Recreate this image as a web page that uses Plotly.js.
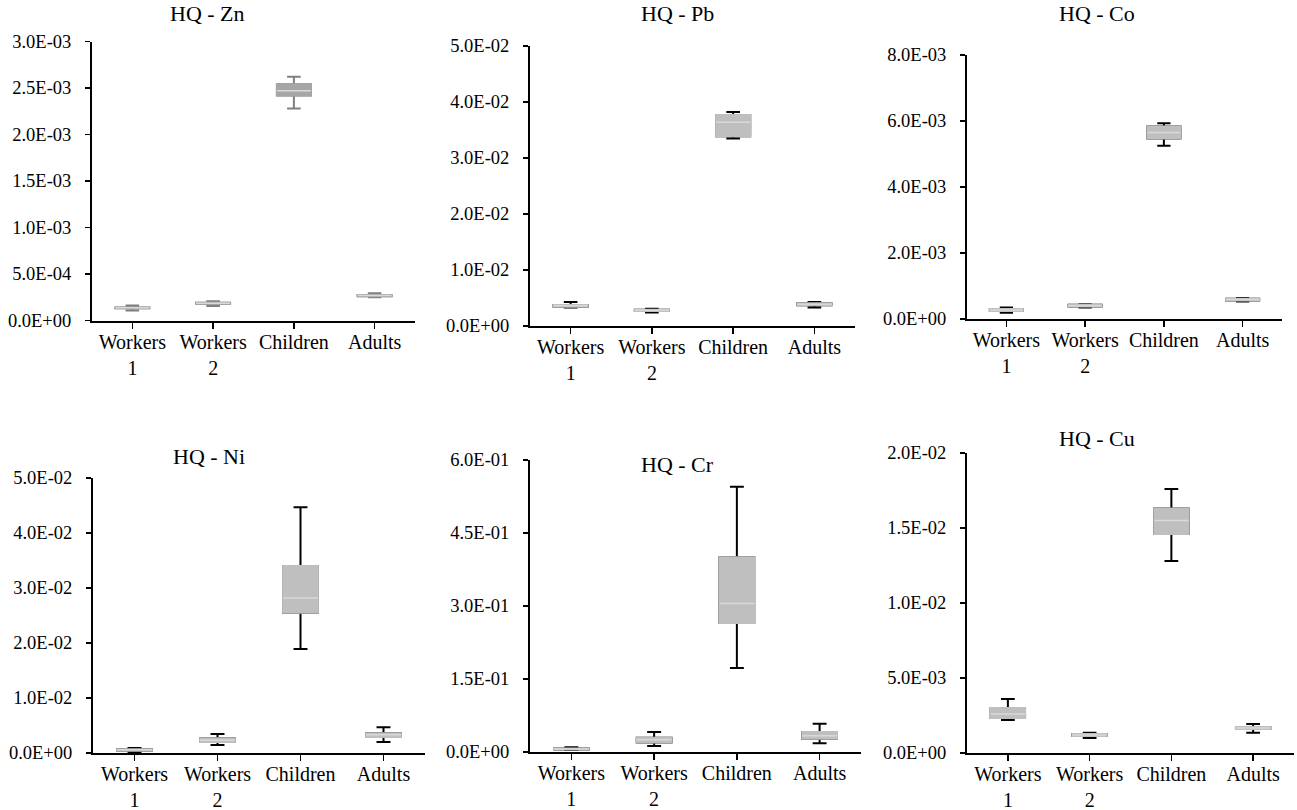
<!DOCTYPE html>
<html>
<head>
<meta charset="utf-8">
<script src="https://cdn.plot.ly/plotly-3.0.1.min.js"></script>
<style>html,body{margin:0;padding:0;background:#fff;}#chart{width:1297px;height:810px;}</style>
</head>
<body>
<div id="chart"></div>
<script>
// ---------- DATA ----------
const categories = ['Workers 1', 'Workers 2', 'Children', 'Adults'];
const categoryLabels = ['Workers<br>1', 'Workers<br>2', 'Children', 'Adults'];

// HQ - Zn
const znLow    = [1.07e-4, 1.57e-4, 2.28e-3, 2.50e-4];
const znQ1     = [1.33e-4, 1.80e-4, 2.42e-3, 2.62e-4];
const znMedian = [1.36e-4, 1.85e-4, 2.47e-3, 2.68e-4];
const znQ3     = [1.40e-4, 1.90e-4, 2.54e-3, 2.75e-4];
const znHigh   = [1.60e-4, 2.07e-4, 2.62e-3, 2.92e-4];
const znTicks  = [0, 5e-4, 1e-3, 1.5e-3, 2e-3, 2.5e-3, 3e-3];
const znTickText = ['0.0E+00', '5.0E-04', '1.0E-03', '1.5E-03', '2.0E-03', '2.5E-03', '3.0E-03'];

// HQ - Pb
const pbLow    = [3.3e-3, 2.4e-3, 3.35e-2, 3.3e-3];
const pbQ1     = [3.45e-3, 2.7e-3, 3.39e-2, 3.7e-3];
const pbMedian = [3.6e-3, 2.8e-3, 3.64e-2, 3.9e-3];
const pbQ3     = [3.75e-3, 2.9e-3, 3.77e-2, 4.05e-3];
const pbHigh   = [4.3e-3, 3.1e-3, 3.82e-2, 4.3e-3];
const pbTicks  = [0, 1e-2, 2e-2, 3e-2, 4e-2, 5e-2];
const pbTickText = ['0.0E+00', '1.0E-02', '2.0E-02', '3.0E-02', '4.0E-02', '5.0E-02'];

// HQ - Co
const coLow    = [1.9e-4, 3.5e-4, 5.25e-3, 5.3e-4];
const coQ1     = [2.4e-4, 3.8e-4, 5.47e-3, 5.6e-4];
const coMedian = [2.7e-4, 4.0e-4, 5.65e-3, 5.9e-4];
const coQ3     = [3.0e-4, 4.3e-4, 5.83e-3, 6.1e-4];
const coHigh   = [3.5e-4, 4.5e-4, 5.93e-3, 6.4e-4];
const coTicks  = [0, 2e-3, 4e-3, 6e-3, 8e-3];
const coTickText = ['0.0E+00', '2.0E-03', '4.0E-03', '6.0E-03', '8.0E-03'];

// HQ - Ni
const niLow    = [1.0e-4, 1.45e-3, 1.89e-2, 2.0e-3];
const niQ1     = [4.0e-4, 2.0e-3, 2.55e-2, 2.9e-3];
const niMedian = [6.0e-4, 2.3e-3, 2.82e-2, 3.3e-3];
const niQ3     = [7.0e-4, 2.7e-3, 3.40e-2, 3.6e-3];
const niHigh   = [9.0e-4, 3.45e-3, 4.47e-2, 4.7e-3];
const niTicks  = [0, 1e-2, 2e-2, 3e-2, 4e-2, 5e-2];
const niTickText = ['0.0E+00', '1.0E-02', '2.0E-02', '3.0E-02', '4.0E-02', '5.0E-02'];

// HQ - Cr
const crLow    = [4.0e-3, 1.23e-2, 0.1726, 0.018];
const crQ1     = [5.0e-3, 1.95e-2, 0.265, 0.027];
const crMedian = [6.0e-3, 2.5e-2, 0.305, 0.0335];
const crQ3     = [7.0e-3, 2.94e-2, 0.400, 0.041];
const crHigh   = [1.0e-2, 4.1e-2, 0.545, 0.058];
const crTicks  = [0, 0.15, 0.30, 0.45, 0.60];
const crTickText = ['0.0E+00', '1.5E-01', '3.0E-01', '4.5E-01', '6.0E-01'];

// HQ - Cu
const cuLow    = [2.2e-3, 1.0e-3, 1.28e-2, 1.35e-3];
const cuQ1     = [2.33e-3, 1.13e-3, 1.46e-2, 1.6e-3];
const cuMedian = [2.6e-3, 1.2e-3, 1.55e-2, 1.67e-3];
const cuQ3     = [3.0e-3, 1.27e-3, 1.63e-2, 1.73e-3];
const cuHigh   = [3.6e-3, 1.35e-3, 1.76e-2, 1.93e-3];
const cuTicks  = [0, 5e-3, 1e-2, 1.5e-2, 2e-2];
const cuTickText = ['0.0E+00', '5.0E-03', '1.0E-02', '1.5E-02', '2.0E-02'];

// ---------- LAYOUT / STYLE ----------
const W = 1297, H = 810;
const FONT = '"Liberation Serif", "Times New Roman", serif';

const panels = [
  {title: 'HQ - Zn', lo: znLow, q1: znQ1, med: znMedian, q3: znQ3, hi: znHigh, ticks: znTicks, tickText: znTickText,
   px: [92, 415], py: [41.5, 320.5], titlePos: [207, 14], whisker: '#7f7f7f', fill: '#a6a6a6'},
  {title: 'HQ - Pb', lo: pbLow, q1: pbQ1, med: pbMedian, q3: pbQ3, hi: pbHigh, ticks: pbTicks, tickText: pbTickText,
   px: [530, 855], py: [46, 326], titlePos: [677, 14], whisker: '#000000', fill: '#bfbfbf'},
  {title: 'HQ - Co', lo: coLow, q1: coQ1, med: coMedian, q3: coQ3, hi: coHigh, ticks: coTicks, tickText: coTickText,
   px: [967, 1282], py: [55, 319], titlePos: [1097, 14], whisker: '#000000', fill: '#bfbfbf'},
  {title: 'HQ - Ni', lo: niLow, q1: niQ1, med: niMedian, q3: niQ3, hi: niHigh, ticks: niTicks, tickText: niTickText,
   px: [93, 425], py: [478, 753], titlePos: [209, 456], whisker: '#000000', fill: '#bfbfbf'},
  {title: 'HQ - Cr', lo: crLow, q1: crQ1, med: crMedian, q3: crQ3, hi: crHigh, ticks: crTicks, tickText: crTickText,
   px: [530, 861], py: [460, 752], titlePos: [677, 464], whisker: '#000000', fill: '#bfbfbf'},
  {title: 'HQ - Cu', lo: cuLow, q1: cuQ1, med: cuMedian, q3: cuQ3, hi: cuHigh, ticks: cuTicks, tickText: cuTickText,
   px: [967, 1294], py: [453, 753], titlePos: [1097, 438], whisker: '#000000', fill: '#bfbfbf'}
];

const traces = [];
const layout = {
  width: W, height: H,
  margin: {l: 0, r: 0, t: 0, b: 0},
  paper_bgcolor: '#ffffff', plot_bgcolor: '#ffffff',
  showlegend: false,
  boxmode: 'overlay',
  font: {family: FONT, color: '#000'},
  annotations: []
};

panels.forEach((p, i) => {
  const n = i + 1;
  const xa = 'x' + (n === 1 ? '' : n);
  const ya = 'y' + (n === 1 ? '' : n);
  const xKey = 'xaxis' + (n === 1 ? '' : n);
  const yKey = 'yaxis' + (n === 1 ? '' : n);

  // whiskers
  traces.push({
    type: 'box', xaxis: xa, yaxis: ya, x: categories,
    q1: p.q1, median: p.med, q3: p.q3, lowerfence: p.lo, upperfence: p.hi,
    width: 0.42, whiskerwidth: 0.4, boxpoints: false,
    line: {color: p.whisker, width: 2}, fillcolor: 'rgba(0,0,0,0)', hoverinfo: 'skip'
  });
  // box body (no visible outline)
  traces.push({
    type: 'box', xaxis: xa, yaxis: ya, x: categories,
    q1: p.q1, median: p.med, q3: p.q3, lowerfence: p.q1, upperfence: p.q3,
    width: 0.42, whiskerwidth: 0, boxpoints: false,
    line: {color: p.fill, width: 2}, fillcolor: p.fill, hoverinfo: 'skip'
  });
  // light median line
  traces.push({
    type: 'box', xaxis: xa, yaxis: ya, x: categories,
    q1: p.med, median: p.med, q3: p.med, lowerfence: p.med, upperfence: p.med,
    width: 0.42, whiskerwidth: 0, boxpoints: false,
    line: {color: '#d9d9d9', width: 1.5}, fillcolor: 'rgba(0,0,0,0)', hoverinfo: 'skip'
  });

  layout[xKey] = {
    domain: [p.px[0] / W, p.px[1] / W],
    anchor: ya,
    type: 'category',
    categoryarray: categories,
    tickvals: categories,
    ticktext: categoryLabels,
    range: [-0.5, 3.5],
    showline: true, linecolor: '#000', linewidth: 2,
    ticks: 'outside', ticklen: 6, tickwidth: 1.5, tickcolor: '#000',
    ticklabelstandoff: -4,
    showgrid: false, zeroline: false, fixedrange: true,
    tickfont: {family: FONT, size: 20, color: '#000'}
  };
  layout[yKey] = {
    domain: [1 - p.py[1] / H, 1 - p.py[0] / H],
    anchor: xa,
    range: [0, p.ticks[p.ticks.length - 1]],
    tickvals: p.ticks,
    ticktext: p.tickText,
    showline: true, linecolor: '#000', linewidth: 2,
    ticks: 'outside', ticklen: 5, tickwidth: 1.5, tickcolor: '#000',
    ticklabelstandoff: 10,
    showgrid: false, zeroline: false, fixedrange: true,
    tickfont: {family: FONT, size: 18.5, color: '#000'}
  };
  layout.annotations.push({
    text: p.title, xref: 'paper', yref: 'paper',
    x: p.titlePos[0] / W, y: 1 - p.titlePos[1] / H,
    xanchor: 'center', yanchor: 'middle', showarrow: false,
    font: {family: FONT, size: 22, color: '#000'}
  });
});

Plotly.newPlot('chart', traces, layout, {displayModeBar: false, staticPlot: true});
</script>
</body>
</html>
